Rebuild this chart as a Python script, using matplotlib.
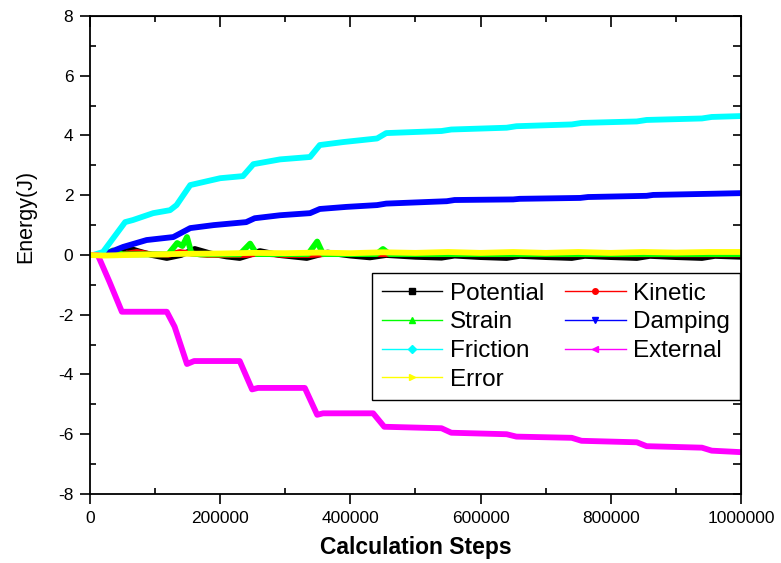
import matplotlib
matplotlib.use("Agg")
import matplotlib.pyplot as plt
from matplotlib.lines import Line2D
from matplotlib.ticker import MultipleLocator, FormatStrFormatter

plt.rcParams["font.family"] = ["Liberation Sans", "DejaVu Sans"]
plt.rcParams["axes.unicode_minus"] = False

# ---------------------------
# Data (steps, energy in J)
# ---------------------------
potential_x = [0, 20000, 40000, 56000, 75000, 95000, 118000, 140000, 161000, 185000, 210000, 230000,
               245000, 261000, 290000, 333000, 350000, 365000, 400000, 430000, 455000, 500000,
               540000, 560000, 600000, 640000, 660000, 700000, 740000, 760000, 800000, 840000,
               860000, 900000, 940000, 960000, 1000000]
potential_y = [0.0, 0.0, 0.05, 0.25, 0.12, 0.0, -0.1, 0.0, 0.2, 0.05, -0.05, -0.1,
               0.0, 0.13, 0.0, -0.1, 0.0, 0.08, -0.02, -0.08, 0.0, -0.06,
               -0.09, -0.02, -0.07, -0.1, -0.03, -0.07, -0.1, -0.03, -0.07, -0.1,
               -0.03, -0.07, -0.1, -0.03, -0.06]

kinetic_x = [0, 20000, 50000, 72000, 95000, 120000, 138000, 155000, 180000, 240000, 260000,
             300000, 340000, 360000, 1000000]
kinetic_y = [0.0, 0.0, 0.02, 0.1, 0.02, 0.0, 0.1, 0.05, 0.0, 0.0, 0.05,
             0.0, 0.0, 0.03, 0.02]

strain_x = [0, 20000, 35000, 50000, 120000, 134000, 142000, 149000, 156000, 170000,
            230000, 246000, 256000, 335000, 349000, 358000, 440000, 450000, 460000, 1000000]
strain_y = [0.0, 0.0, 0.15, 0.02, 0.02, 0.4, 0.3, 0.6, 0.05, 0.02,
            0.02, 0.38, 0.03, 0.03, 0.45, 0.03, 0.03, 0.2, 0.03, 0.03]

damping_x = [0, 20000, 51000, 87000, 128000, 154000, 190000, 240000, 253000, 292000, 338000,
             353000, 394000, 441000, 455000, 548000, 560000, 650000, 660000, 753000, 765000,
             855000, 865000, 957000, 1000000]
damping_y = [0.0, 0.0, 0.27, 0.5, 0.6, 0.9, 1.0, 1.1, 1.23, 1.33, 1.4,
             1.54, 1.61, 1.67, 1.72, 1.8, 1.84, 1.86, 1.88, 1.91, 1.94,
             1.98, 2.01, 2.05, 2.07]

friction_x = [0, 5000, 20000, 54000, 66000, 97000, 123000, 133000, 154000, 200000, 235000,
              251000, 292000, 338000, 353000, 389000, 441000, 455000, 540000, 555000, 640000,
              655000, 740000, 755000, 840000, 855000, 940000, 955000, 1000000]
friction_y = [0.0, 0.0, 0.1, 1.1, 1.17, 1.4, 1.5, 1.67, 2.34, 2.57, 2.64,
              3.04, 3.2, 3.28, 3.68, 3.78, 3.9, 4.08, 4.15, 4.2, 4.26,
              4.31, 4.37, 4.42, 4.47, 4.52, 4.57, 4.62, 4.65]

external_x = [0, 12000, 30000, 49000, 118000, 130000, 149000, 160000, 230000, 249000, 258000,
              330000, 349000, 358000, 435000, 452000, 540000, 555000, 640000, 655000, 740000,
              755000, 840000, 855000, 940000, 955000, 1000000]
external_y = [0.0, 0.0, -0.9, -1.9, -1.9, -2.4, -3.65, -3.55, -3.55, -4.5, -4.45,
              -4.45, -5.35, -5.3, -5.3, -5.75, -5.8, -5.95, -6.0, -6.08, -6.12,
              -6.22, -6.27, -6.4, -6.45, -6.55, -6.6]

error_x = [0, 20000, 60000, 100000, 150000, 200000, 250000, 300000, 350000, 400000, 450000,
           500000, 550000, 600000, 650000, 700000, 750000, 800000, 850000, 900000, 950000, 1000000]
error_y = [0.0, -0.02, 0.0, 0.02, 0.04, 0.05, 0.07, 0.06, 0.08, 0.06, 0.09,
           0.07, 0.1, 0.07, 0.1, 0.07, 0.1, 0.07, 0.1, 0.08, 0.1, 0.1]

series = [
    ("Potential", potential_x, potential_y, "black", "s"),
    ("Kinetic", kinetic_x, kinetic_y, "red", "o"),
    ("Strain", strain_x, strain_y, "#00ff00", "^"),
    ("Damping", damping_x, damping_y, "blue", "v"),
    ("Friction", friction_x, friction_y, "cyan", "D"),
    ("External", external_x, external_y, "magenta", "<"),
    ("Error", error_x, error_y, "yellow", ">"),
]

fig = plt.figure(figsize=(7.81, 5.63), dpi=100)
ax = fig.add_axes([0.1152, 0.1226, 0.8336, 0.849])

handles = {}
for name, xs, ys, color, marker in series:
    ax.plot(xs, ys, color=color, lw=4.2, solid_joinstyle="round", solid_capstyle="round")
    handles[name] = Line2D([], [], color=color, lw=1, marker=marker, markersize=4)

ax.set_xlim(0, 1000000)
ax.set_ylim(-8, 8)
ax.xaxis.set_major_locator(MultipleLocator(200000))
ax.xaxis.set_minor_locator(MultipleLocator(100000))
ax.xaxis.set_major_formatter(FormatStrFormatter("%d"))
ax.yaxis.set_major_locator(MultipleLocator(2))
ax.yaxis.set_minor_locator(MultipleLocator(1))
ax.yaxis.set_major_formatter(FormatStrFormatter("%d"))
ax.tick_params(which="major", direction="out", length=7, width=1.2, labelsize=12.5, pad=5)
ax.tick_params(which="minor", direction="in", length=4, width=1.2)
for sp in ax.spines.values():
    sp.set_linewidth(1.3)

# top / right axes: inward ticks, no labels
top = ax.secondary_xaxis("top")
top.xaxis.set_major_locator(MultipleLocator(200000))
top.xaxis.set_minor_locator(MultipleLocator(100000))
top.tick_params(which="major", direction="in", length=8, width=1.2, labeltop=False)
top.tick_params(which="minor", direction="in", length=4, width=1.2)
right = ax.secondary_yaxis("right")
right.yaxis.set_major_locator(MultipleLocator(2))
right.yaxis.set_minor_locator(MultipleLocator(1))
right.tick_params(which="major", direction="in", length=6, width=1.2, labelright=False)
right.tick_params(which="minor", direction="in", length=6, width=1.2)

ax.set_xlabel("Calculation Steps", fontsize=16.5, fontweight="bold")
ax.xaxis.set_label_coords(0.5, -0.088)
ax.set_ylabel("Energy(J)", fontsize=15.5)
ax.yaxis.set_label_coords(-0.082, 0.58)

order = ["Potential", "Strain", "Friction", "Error", "Kinetic", "Damping", "External"]
leg = ax.legend([handles[n] for n in order], order, ncol=2, loc="upper left",
                bbox_to_anchor=(0.433, 0.462, 0.565, 0.0), mode="expand",
                fontsize=17.5, handlelength=2.5, handletextpad=0.3, labelspacing=0.27,
                borderpad=0.4, columnspacing=0.8, fancybox=False, framealpha=1,
                edgecolor="black", borderaxespad=0)
leg.get_frame().set_linewidth(1.0)

fig.savefig("out.png", dpi=100)
